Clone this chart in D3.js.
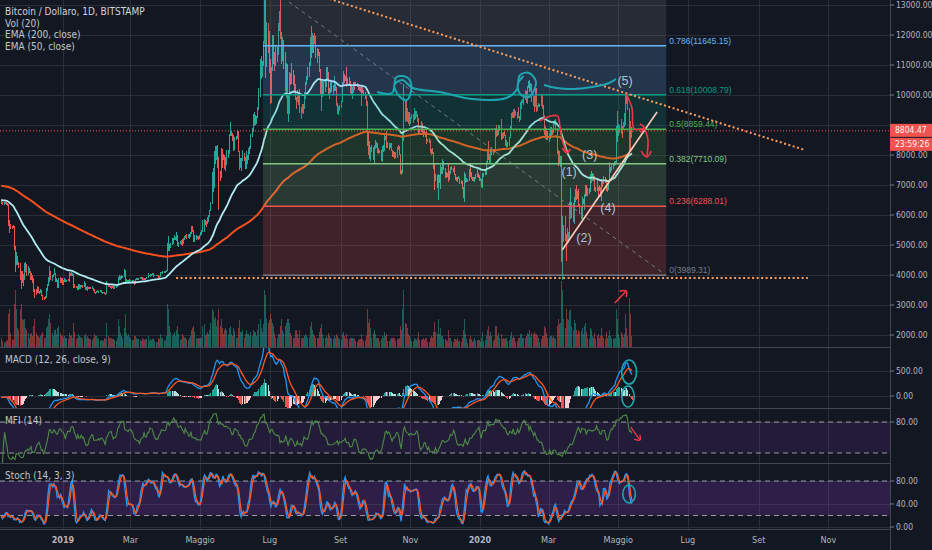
<!DOCTYPE html>
<html>
<head>
<meta charset="utf-8">
<script src="https://cdn.jsdelivr.net/npm/d3@7"></script>
<style>
  html, body { margin: 0; padding: 0; background: #131722; }
  svg { display: block; font-family: "Liberation Sans Narrow", "DejaVu Sans Condensed", sans-serif; }
</style>
</head>
<body>
<div id="chart"></div>
<script>
// ---- daily BTC/USD bars (Bitstamp), first bar 2018-11-08 ----
const startDate = "2018-11-08";
const prevClose = 6530; // close of 2018-11-07 = open of first bar

const closes = [
  6410,6360,6390,6400,6370,6360,5740,5650,5600,5580,5640,4860,4470,4620,4360,4330,3880,4010,3790,3840,4280,4280,4020, // nov 18
  4200,4150,3880,3960,3760,3510,3420,3410,3580,3460,3400,3490,3310,3240,3210,3240,3530,3660,3770,4130,3880,4000,3990,4070,3820,3840,3600,3880,3760,3880,3700, // dec
  3820,3880,3780,3820,3800,4040,4000,4000,4010,3640,3630,3600,3510,3660,3570,3610,3640,3600,3710,3540,3540,3580,3550,3580,3570,3570,3540,3440,3400,3460,3430, // jan 19
  3460,3490,3410,3410,3430,3390,3370,3630,3620,3650,3590,3610,3590,3570,3580,3600,3650,3880,3900,3960,3920,3960,4120,3750,3820,3800,3810,3800, // feb
  3820,3820,3790,3700,3850,3860,3870,3870,3930,3910,3860,3880,3870,3870,3920,4000,3980,3980,4010,4040,3980,3990,3990,3990,3920,3940,4090,4080,4110,4110,4110, // mar
  4150,4900,4970,4910,5040,5060,5200,5270,5200,5330,5020,5080,5080,5160,5050,5220,5270,5290,5280,5340,5290,5390,5550,5440,5210,5280,5280,5270,5210,5320, // apr
  5370,5480,5770,5820,5750,5690,5760,5940,6150,6360,7250,6980,7820,7990,8200,7880,7360,7260,8190,7980,7950,7620,7880,7990,8050,8680,8800,8720,8660,8270,8550, // may
  8560,8740,8120,7680,7790,7800,8000,7930,7620,8000,7930,8150,8230,8700,8840,8970,9330,9080,9280,9540,10200,10690,10870,11000,11780,12930,11170,12400,11900,10830, // jun
  10570,10810,11970,11160,11000,11240,11470,12280,12560,12100,11360,11800,11370,10200,10860,9440,9670,10640,10530,10750,10590,10320,9860,9770,9880,9850,9480,9530,9510,9580,10080, // jul
  10400,10530,10820,10980,11800,11460,11970,11960,11850,11280,11540,11390,10870,10030,10300,10360,10220,10320,10900,10760,10140,10130,10400,10140,10140,10370,10190,9720,9490,9580,9600, // aug
  9770,10390,10620,10580,10580,10320,10490,10400,10330,10110,10160,10420,10360,10360,10310,10260,10180,10160,10270,10170,9980,10030,9690,8530,8430,8060,8190,8210,8050,8300, // sep
  8330,8390,8230,8150,8140,7880,8210,8180,8590,8580,8270,8310,8290,8360,8160,8000,8080,7960,7960,8230,8220,8030,7470,7430,8660,9260,9550,9210,9420,9200,9150, // oct
  9250,9310,9200,9400,9310,9340,9200,8780,8800,9040,8720,8820,8760,8640,8470,8490,8500,8170,8120,8080,7620,7280,7330,6910,7130,7160,7530,7430,7750,7560, // nov
  7410,7320,7300,7200,7390,7530,7510,7520,7340,7230,7210,7200,7250,7070,7110,6880,6620,7280,7150,7190,7140,7510,7330,7250,7200,7200,7250,7320,7390,7240,7180, // dec
  7180,6950,7340,7360,7360,7760,8160,8040,7820,8190,8020,8180,8110,8820,8810,8720,8900,8910,8700,8630,8730,8660,8390,8430,8330,8600,8890,9380,9290,9500,9340, // jan 20
  9380,9330,9280,9160,9610,9760,9800,9900,10150,9850,10270,10350,10230,10360,9900,9920,9700,10170,9600,9610,9680,9660,9970,9660,9310,8780,8790,8670,8530, // feb
  8530,8910,8760,8750,9060,9150,8900,8030,7930,7890,7950,4860,5620,5160,5360,5030,5330,5410,6190,6200,6190,5830,6480,6760,6690,6760,6370,6250,5880,6410,6420, // mar
  6640,6800,6740,6860,6780,7340,7200,7370,7290,6860,6890,6910,6850,6860,6630,7110,7040,7260,7130,6850,6870,7130,7500,7540,7560,7700,7780,7770,8780,8620, // apr
  8830,8970,8900,8890,9030,9160,9980,9810,9540,8720,8570,8810,8804.47 // may
];

const highs = [
  6540,6440,6420,6440,6430,6400,6370,5850,5700,5640,5680,5640,4960,4780,4650,4440,4400,4150,4140,4050,4390,4440,4360,
  4310,4230,4150,4070,3990,3890,3550,3520,3650,3600,3480,3530,3490,3330,3270,3300,3580,3690,3940,4300,4150,4010,4030,4230,4070,3890,3840,3900,3950,3890,3890,
  3840,3910,3880,3850,3880,4090,4070,4110,4060,4030,3690,3630,3620,3690,3690,3680,3670,3660,3790,3740,3590,3630,3610,3600,3590,3640,3580,3540,3450,3470,3490,
  3480,3500,3490,3430,3440,3440,3400,3800,3670,3660,3650,3640,3630,3620,3620,3620,3690,3920,4000,3980,4000,3980,4190,4170,3860,3830,3840,3860,
  3850,3840,3830,3800,3870,3910,3910,3910,3950,3940,3920,3900,3890,3900,3930,4070,4010,4050,4030,4060,4060,4010,4000,4000,3990,3960,4100,4100,4120,4150,4130,
  4170,5080,5300,5020,5080,5230,5250,5350,5280,5450,5340,5110,5130,5180,5190,5230,5300,5340,5360,5360,5370,5440,5620,5640,5490,5340,5330,5300,5300,5350,
  5420,5510,5840,5860,5840,5800,5950,6000,6180,6450,7450,7580,8120,8310,8290,8330,7950,7470,8250,8100,8050,8000,7950,8160,8160,8710,9090,8800,8740,8680,8590,
  8630,8820,8800,8120,7910,7890,8160,8080,7940,8140,8000,8230,8310,8710,8890,9370,9440,9340,9310,9590,10240,11190,11300,11130,11800,13880,13330,12440,12360,12120,
  11200,10930,11990,12000,11440,11670,11600,12390,12790,13200,12110,11930,11830,11450,11070,11030,9990,10770,10730,11080,10820,10660,10360,9920,10180,9990,10200,9610,9710,9690,10110,
  10450,10650,10920,11090,11940,12300,12070,12000,12060,11960,11560,11540,11450,10870,10480,10480,10450,10460,10930,10930,10770,10240,10430,10420,10340,10640,10380,10270,9700,9650,9680,
  9800,10450,10790,10690,10640,10920,10570,10590,10480,10380,10260,10450,10450,10440,10390,10360,10270,10270,10300,10290,10080,10100,10040,9800,8740,8470,8280,8340,8270,8350,
  8510,8420,8400,8220,8170,8160,8310,8320,8670,8650,8790,8420,8410,8400,8400,8170,8130,8100,8100,8260,8320,8300,8050,7500,8800,10370,9800,9870,9580,9450,9440,
  9280,9370,9380,9560,9470,9470,9360,9230,8830,9120,9070,8880,8840,8780,8790,8540,8580,8500,8210,8230,8100,7700,7380,7330,7380,7340,7660,7600,7870,7800,
  7560,7420,7410,7750,7480,7600,7630,7560,7620,7380,7270,7260,7300,7250,7170,7130,6940,7440,7380,7220,7190,7520,7690,7430,7270,7280,7270,7360,7520,7410,7320,
  7250,7210,7400,7390,7490,7790,8210,8460,8050,8200,8280,8190,8190,8890,8990,8840,9000,9010,9190,8730,8780,8790,8670,8510,8440,8610,8980,9390,9420,9540,9520,
  9470,9450,9600,9300,9760,9850,9870,9930,10160,10150,10300,10470,10500,10390,10380,10050,9960,10250,10240,9660,9750,9690,9990,10000,9680,9330,8970,8910,8790,
  8750,8950,8920,8840,9150,9180,9210,8900,8180,8150,7980,7960,5960,5670,5960,5380,5560,5450,6420,6900,6450,6410,6600,6860,6990,6800,6870,6380,6270,6600,6530,
  6700,7000,7000,6890,6890,7370,7470,7410,7370,7300,6940,7180,6920,6990,6950,7210,7150,7310,7250,7200,6960,7160,7760,7600,7700,7740,7800,7800,8980,9460,
  9050,9000,9190,8960,9090,9390,9990,10050,9920,9570,9150,8950,8812
];

const lows = [
  6380,6340,6340,6370,6330,6300,5650,5400,5530,5530,5560,4830,4100,4320,4350,4230,3830,3550,3720,3640,3820,4100,3970,
  3990,4080,3840,3830,3750,3450,3240,3350,3410,3400,3360,3400,3300,3170,3170,3210,3240,3480,3640,3760,3820,3790,3930,3990,3770,3760,3580,3580,3740,3750,3670,
  3680,3770,3760,3760,3790,3780,3960,3970,3980,3580,3570,3560,3490,3500,3540,3550,3590,3570,3590,3490,3520,3480,3530,3530,3530,3560,3480,3390,3380,3390,3420,
  3400,3450,3400,3390,3400,3370,3350,3360,3590,3590,3580,3550,3570,3550,3560,3570,3590,3640,3830,3850,3880,3910,3940,3700,3740,3750,3700,3770,
  3790,3780,3770,3670,3690,3820,3840,3850,3860,3880,3840,3820,3850,3830,3860,3910,3960,3950,3970,3990,3950,3980,3980,3970,3890,3910,3930,4060,4050,4080,4090,
  4100,4120,4810,4790,4930,4990,5040,5160,5160,5130,4980,4920,5040,5010,4980,5030,5180,5250,5190,5250,5200,5260,5370,5420,5110,5100,5180,5190,5170,5190,
  5310,5350,5440,5450,5680,5600,5700,5780,5930,6140,6370,6780,6900,7700,7850,7580,6180,7150,7250,7560,7850,7520,7480,7670,7900,8030,8620,8620,8460,8140,8180,
  8490,8520,8090,7510,7580,7470,7790,7800,7530,7550,7700,7840,8030,8210,8590,8770,8970,9000,9050,9250,9510,9930,10530,10600,10960,11690,10580,10940,11400,10750,
  9700,9740,10800,11050,10800,10980,11110,11320,12140,11860,11040,11150,10860,10120,9900,9360,9100,9370,10320,10370,10350,10120,9830,9520,9760,9680,9390,9200,9400,9380,9550,
  9880,10350,10500,10600,10970,11220,11400,11400,11700,11240,11080,11290,10760,10000,9460,9950,10030,10090,10270,10540,10000,9880,10080,10090,10050,10140,10140,9640,9380,9330,9470,
  9580,9760,10290,10410,10460,10270,10310,10290,10070,10020,9870,10080,10170,10290,10260,10160,10140,10110,9650,10070,9960,9860,9620,8310,8000,7860,7790,8100,7850,7710,
  8190,8230,8080,8020,8060,7790,7760,8090,8150,8500,8230,8250,8170,8230,8130,7940,7950,7880,7910,7900,8180,8000,7360,7350,7410,8480,9110,9140,9100,9020,8980,
  9050,9200,9080,9160,9200,9260,9100,8710,8700,8780,8660,8590,8700,8590,8370,8440,8400,8060,8000,8050,7540,6850,7130,6900,6515,7070,6860,7380,7380,7490,
  7230,7250,7260,7100,7170,7380,7500,7430,7320,7170,7130,7110,7200,7030,7030,6860,6570,6435,7070,7110,7100,7120,7270,7190,7120,7130,7100,7210,7280,7230,7140,
  7150,6920,6890,7270,7330,7350,7740,7830,7750,7720,8010,8010,8060,8120,8590,8640,8670,8810,8500,8540,8560,8620,8310,8260,8280,8290,8580,8870,9250,9230,9220,
  9300,9200,9230,9100,9160,9540,9720,9680,9850,9730,9700,10240,10090,10120,9770,9650,9450,9600,9430,9460,9600,9590,9650,9520,9270,8660,8550,8500,8510,
  8420,8520,8650,8670,8730,9010,8840,8020,7650,7700,7600,4440,3850,5100,5150,4470,5030,5080,5250,5880,5900,5770,5700,6430,6510,6530,6290,6020,5860,5860,6360,
  6160,6600,6620,6640,6700,6780,7080,7140,7120,6790,6780,6810,6580,6790,6610,6480,6950,7020,7080,6800,6780,6850,7090,7400,7460,7530,7650,7660,7730,8420,
  8620,8750,8690,8560,8820,8940,9010,9710,9500,8120,8160,8560,8800
];

// thousand BTC
const volumes = [
  9,6,4,5,6,7,35,40,15,8,7,45,60,40,20,18,40,45,30,28,30,20,18,
  15,10,14,15,12,22,30,15,12,12,10,12,14,16,10,10,20,22,30,35,25,15,12,18,18,14,20,22,15,12,13,
  10,12,10,9,8,15,12,13,10,25,16,8,9,14,12,11,10,9,12,14,9,12,10,8,8,7,10,14,12,12,10,
  8,6,7,7,6,9,8,25,12,9,10,9,8,8,7,6,10,30,22,15,12,10,20,35,15,12,14,11,
  8,7,7,12,12,9,8,8,7,6,9,8,7,8,8,12,6,8,7,8,9,6,5,5,10,8,14,9,9,7,6,
  12,45,40,22,16,12,14,16,12,18,22,14,7,8,14,12,11,10,8,7,9,12,18,20,22,16,9,8,10,10,
  10,10,22,24,12,14,16,14,18,25,40,38,30,32,22,28,40,22,30,20,14,18,20,18,13,20,22,14,12,20,17,
  10,10,20,28,16,16,18,10,14,18,14,14,12,16,12,18,16,16,12,18,24,30,20,16,24,60,55,30,25,28,
  35,30,25,22,15,10,10,14,14,22,30,18,15,22,25,30,30,25,15,12,10,10,18,18,14,10,18,10,9,10,12,
  14,12,10,11,22,26,18,14,12,10,10,9,16,20,24,14,10,9,12,10,15,12,10,9,8,12,9,14,12,9,8,
  7,14,16,12,9,14,8,8,9,10,10,10,8,6,5,7,8,8,14,8,6,7,12,40,25,30,20,10,15,18,
  14,9,10,9,6,8,12,9,16,12,14,6,6,8,9,10,9,9,6,8,8,10,22,18,40,60,25,24,20,14,12,
  10,6,6,10,8,7,9,16,7,7,8,9,7,9,10,5,5,10,12,10,16,26,16,14,30,14,20,12,12,8,
  8,7,6,18,9,10,6,5,8,8,7,9,6,6,5,10,18,30,14,8,4,8,12,8,5,7,9,6,7,7,7,
  5,9,16,6,7,12,18,22,12,16,12,6,8,22,22,12,15,10,14,8,9,8,10,10,6,7,12,16,10,12,10,
  5,6,9,9,14,14,10,9,9,12,15,14,18,11,15,14,16,14,14,12,9,5,8,12,12,22,20,15,9,
  10,12,12,9,12,10,8,22,30,24,25,70,60,30,20,40,30,28,38,40,22,18,28,25,18,14,18,16,17,20,14,
  22,25,16,10,8,20,18,12,10,15,8,12,14,10,12,20,12,10,8,16,10,12,18,12,9,8,10,9,40,30,
  14,9,16,14,11,14,35,20,12,52,35,12,0.2
];

const ema50Start = 6500;
const ema200Start = 6980;
const ema12Start = 6390;
const ema26Start = 6420;
const signalStart = -25;

// axis ticks and labels
const priceTicks = d3.range(2000, 13001, 1000);
const macdTicks = [0, 500];
const mfiTicks = [80];
const stochTicks = [0, 40, 80];
const monthNames = ["Gen", "Feb", "Mar", "Apr", "Maggio", "Giu", "Lug", "Ago", "Set", "Ott", "Nov", "Dic"];
const legendLines = ["Bitcoin / Dollaro, 1D, BITSTAMP", "Vol (20)", "EMA (200, close)", "EMA (50, close)"];

// fibonacci retracement drawing
const fibRatios = [0, 0.236, 0.382, 0.5, 0.618, 0.786, 1];
const fibColors = ["#787b86", "#ef5350", "#81c784", "#4caf50", "#089981", "#64b5f6", "#787b86"];
const fibLow = 3989.31, fibHigh = 13729.57;
const fibFrom = "2019-06-25", fibTo = "2020-06-12";

// other drawings [date, value]
const orangeTrend = [["2019-07-27", 13520], ["2020-10-11", 8170]];
const orangeSupport = [["2019-04-10", 3900], ["2020-10-14", 3900]];
const peachTrend = [["2020-03-13", 4833], ["2020-06-04", 9433]];
const tealScribble1 = [["2019-10-03",10100],["2019-10-16",10067],["2019-10-20",10600],["2019-10-30",10567],["2019-11-02",10233],["2019-10-29",9833],["2019-10-23",9933],["2019-10-18",10333],["2019-10-25",10500],["2019-11-03",10233],["2019-11-27",10100],["2019-12-25",9867],["2020-01-24",9900],["2020-02-02",10167],["2020-02-05",10667],["2020-02-13",10733],["2020-02-19",10433],["2020-02-13",9933],["2020-02-06",10000],["2020-02-03",10333],["2020-02-08",10633]];
const tealScribble2 = [["2020-02-26",10333],["2020-03-08",10233],["2020-03-22",10200],["2020-04-08",10267],["2020-04-23",10400],["2020-04-29",10533]];
const redArrows = [
  [["2020-02-22",9133],["2020-03-03",9300],["2020-03-09",9300],["2020-03-11",8933],["2020-03-13",8500],["2020-03-17",8067]],
  [["2020-03-13",8233],["2020-03-17",8067],["2020-03-20",8200]],
  [["2020-05-08",10033],["2020-05-13",9567],["2020-05-15",8867],["2020-05-24",8900]],
  [["2020-05-20",9033],["2020-05-24",8900],["2020-05-20",8767]],
  [["2020-05-24",8900],["2020-05-27",8500],["2020-05-26",7933]],
  [["2020-05-21",8133],["2020-05-26",7933],["2020-05-30",8133]],
  [["2020-04-28",3067],["2020-05-08",3467]],
  [["2020-05-02",3467],["2020-05-08",3467],["2020-05-08",3267]]
];
const mfiArrow = [[["2020-05-12",70],["2020-05-20",45]], [["2020-05-15",47],["2020-05-20",45],["2020-05-20",55]]];
const macdCircles = [[["2020-05-04",720],["2020-05-17",240]], [["2020-05-04",200],["2020-05-15",-220]]];
const stochCircles = [[["2020-05-05",73],["2020-05-16",42]]];
const waveLabels = [["(1)","2020-03-19",7400],["(2)","2020-04-01",5200],["(3)","2020-04-06",7967],["(4)","2020-04-22",6200],["(5)","2020-05-07",10433]];

// ---------------- layout ----------------
const width = 932, height = 550, plotRight = 890;
const paneMain = [0, 347], paneMacd = [347, 408], paneMfi = [408, 463], paneStoch = [463, 529];
const upColor = "#26a69a", downColor = "#ef5350";
const gridColor = "#2a2e39", textColor = "#b2b5be";

const x = d3.scaleUtc()
  .domain([new Date(Date.UTC(2019, 0, 1)), new Date(Date.UTC(2020, 0, 1))])
  .range([63, 480]);
const yPrice = d3.scaleLinear().domain([2000, 13000]).range([335, 5]);
const yVol = d3.scaleLinear().domain([0, 60]).range([347, 290]);
const yMacd = d3.scaleLinear().domain([0, 500]).range([396, 371]);
const yMfi = d3.scaleLinear().domain([20, 80]).range([453, 422]);
const yStoch = d3.scaleLinear().domain([0, 80]).range([527, 481]);

const pd = s => d3.isoParse(s);

// bars
const t0 = pd(startDate);
const bars = closes.map((c, i) => ({
  date: d3.utcDay.offset(t0, i),
  open: i ? closes[i - 1] : prevClose,
  high: highs[i], low: lows[i], close: c, vol: volumes[i]
}));

// indicators
function ema(values, period, seed) {
  const k = 2 / (period + 1);
  let e = seed;
  return values.map(v => (e = v * k + e * (1 - k)));
}
const ema50 = ema(closes, 50, ema50Start);
const ema200 = ema(closes, 200, ema200Start);
const e12 = ema(closes, 12, ema12Start), e26 = ema(closes, 26, ema26Start);
const macd = e12.map((v, i) => v - e26[i]);
const signal = ema(macd, 9, signalStart);
const hist = macd.map((v, i) => v - signal[i]);

const tp = bars.map(b => (b.high + b.low + b.close) / 3);
const mfi = bars.map((b, i) => {
  if (i === 0) return null;
  let pos = 0, neg = 0;
  for (let j = Math.max(1, i - 13); j <= i; j++) {
    const flow = tp[j] * bars[j].vol;
    if (tp[j] > tp[j - 1]) pos += flow; else if (tp[j] < tp[j - 1]) neg += flow;
  }
  return neg === 0 ? 100 : 100 - 100 / (1 + pos / neg);
});

const rawK = bars.map((b, i) => {
  const win = bars.slice(Math.max(0, i - 13), i + 1);
  const hh = d3.max(win, d => d.high), ll = d3.min(win, d => d.low);
  return hh === ll ? 50 : 100 * (b.close - ll) / (hh - ll);
});
const sma = (arr, n) => arr.map((v, i) => d3.mean(arr.slice(Math.max(0, i - n + 1), i + 1)));
const stochK = sma(rawK, 3);
const stochD = sma(stochK, 3);

// ---------------- svg ----------------
const svg = d3.select("#chart").append("svg")
  .attr("width", width).attr("height", height);

svg.append("rect").attr("width", width).attr("height", height).attr("fill", "#131722");

const defs = svg.append("defs");
[["main", paneMain], ["macd", paneMacd], ["mfi", paneMfi], ["stoch", paneStoch]].forEach(([id, p]) => {
  defs.append("clipPath").attr("id", "clip-" + id)
    .append("rect").attr("x", 0).attr("y", p[0]).attr("width", plotRight).attr("height", p[1] - p[0]);
});

// grid
const timeTicks = d3.utcMonth.every(2).range(new Date(Date.UTC(2019, 0, 1)), new Date(Date.UTC(2020, 11, 2)));
const grid = svg.append("g").attr("stroke", gridColor).attr("stroke-width", 1).attr("shape-rendering", "crispEdges");
grid.selectAll("line.v").data(timeTicks).join("line")
  .attr("x1", d => Math.round(x(d)) + 0.5).attr("x2", d => Math.round(x(d)) + 0.5)
  .attr("y1", 0).attr("y2", paneStoch[1]);
function hGrid(ticks, scale) {
  grid.append("g").selectAll("line").data(ticks).join("line")
    .attr("x1", 0).attr("x2", plotRight)
    .attr("y1", d => Math.round(scale(d)) + 0.5).attr("y2", d => Math.round(scale(d)) + 0.5);
}
hGrid(priceTicks, yPrice);
hGrid(macdTicks, yMacd);
hGrid(mfiTicks, yMfi);
hGrid(stochTicks, yStoch);

// ---- main pane ----
const main = svg.append("g").attr("clip-path", "url(#clip-main)");

main.append("g").attr("shape-rendering", "crispEdges")
  .selectAll("rect").data(bars).join("rect")
  .attr("x", d => Math.round(x(d.date)))
  .attr("width", 1)
  .attr("y", d => yVol(d.vol))
  .attr("height", d => yVol(0) - yVol(d.vol))
  .attr("fill", d => d.close >= d.open ? upColor : downColor)
  .attr("fill-opacity", 0.5);

const candles = main.append("g").attr("shape-rendering", "crispEdges");
candles.selectAll("rect.wick").data(bars).join("rect").attr("class", "wick")
  .attr("x", d => Math.round(x(d.date)))
  .attr("width", 1)
  .attr("y", d => yPrice(d.high))
  .attr("height", d => Math.max(1, yPrice(d.low) - yPrice(d.high)))
  .attr("fill", d => d.close >= d.open ? upColor : downColor);
candles.selectAll("rect.body").data(bars).join("rect").attr("class", "body")
  .attr("x", d => Math.round(x(d.date)))
  .attr("width", 1)
  .attr("y", d => yPrice(Math.max(d.open, d.close)))
  .attr("height", d => Math.max(1, Math.abs(yPrice(d.open) - yPrice(d.close))))
  .attr("fill", d => d.close >= d.open ? upColor : downColor);

const lineOf = (vals, scale) => d3.line().x((d, i) => x(bars[i].date)).y(d => scale(d))(vals);
main.append("path").attr("d", lineOf(ema200, yPrice)).attr("fill", "none").attr("stroke", "#f4511e").attr("stroke-width", 2);
main.append("path").attr("d", lineOf(ema50, yPrice)).attr("fill", "none").attr("stroke", "#b2ebf2").attr("stroke-width", 1.8);

// fib retracement
const fx1 = x(pd(fibFrom)), fx2 = x(pd(fibTo));
const fibPrice = r => fibLow + r * (fibHigh - fibLow);
const fib = main.append("g");
fib.selectAll("rect").data(fibRatios.slice(1)).join("rect")
  .attr("x", fx1).attr("width", fx2 - fx1)
  .attr("y", d => yPrice(fibPrice(d)))
  .attr("height", (d, i) => yPrice(fibPrice(fibRatios[i])) - yPrice(fibPrice(d)))
  .attr("fill", (d, i) => fibColors[i + 1]).attr("fill-opacity", 0.2);
fib.selectAll("line").data(fibRatios).join("line")
  .attr("x1", fx1).attr("x2", fx2)
  .attr("y1", d => yPrice(fibPrice(d))).attr("y2", d => yPrice(fibPrice(d)))
  .attr("stroke", (d, i) => fibColors[i]).attr("stroke-width", 1.5);
// the 1.0 level sits above the visible range, so only its fill shows
fib.selectAll("text").data(fibRatios.filter(r => yPrice(fibPrice(r)) > 12)).join("text")
  .attr("x", fx2 + 3).attr("y", d => yPrice(fibPrice(d)) - 2)
  .attr("fill", d => fibColors[fibRatios.indexOf(d)])
  .attr("font-family", "'Liberation Sans', Arial, sans-serif")
  .attr("font-size", 8.5)
  .text(d => `${d}(${fibPrice(d).toFixed(2)})`);
fib.append("line")
  .attr("x1", fx1).attr("y1", yPrice(fibHigh)).attr("x2", fx2).attr("y2", yPrice(fibLow))
  .attr("stroke", "#787b86").attr("stroke-dasharray", "4,4");

// trend lines
const seg = (pts, sy) => d3.line().x(p => x(pd(p[0]))).y(p => sy(p[1]));
main.append("path").attr("d", seg(orangeTrend, yPrice)(orangeTrend))
  .attr("stroke", "#ff9e5a").attr("stroke-width", 2).attr("stroke-dasharray", "2,2.5").attr("fill", "none");
main.append("path").attr("d", seg(orangeSupport, yPrice)(orangeSupport))
  .attr("stroke", "#ff9e5a").attr("stroke-width", 2).attr("stroke-dasharray", "2,2.5").attr("fill", "none");
main.append("path").attr("d", seg(peachTrend, yPrice)(peachTrend))
  .attr("stroke", "#ffccbc").attr("stroke-width", 1.6).attr("fill", "none");

// hand drawings
const curve = (pts, sy) => d3.line().x(p => x(pd(p[0]))).y(p => sy(p[1])).curve(d3.curveCatmullRom.alpha(0.5))(pts);
[tealScribble1, tealScribble2].forEach(s => {
  main.append("path").attr("d", curve(s, yPrice)).attr("fill", "none")
    .attr("stroke", "#1fa5b0").attr("stroke-width", 2).attr("stroke-linejoin", "round");
});
redArrows.forEach(s => {
  main.append("path").attr("d", curve(s, yPrice)).attr("fill", "none")
    .attr("stroke", "#f23645").attr("stroke-width", 1.6).attr("stroke-linejoin", "round");
});
main.selectAll("text.wave").data(waveLabels).join("text").attr("class", "wave")
  .attr("x", d => x(pd(d[1]))).attr("y", d => yPrice(d[2]))
  .attr("text-anchor", "middle").attr("dominant-baseline", "middle")
  .attr("font-family", "'Liberation Sans', Arial, sans-serif").attr("font-size", 12.5)
  .attr("fill", "#b0c4d4").text(d => d[0]);

// current price line
main.append("line").attr("x1", 0).attr("x2", plotRight)
  .attr("y1", yPrice(closes[closes.length - 1])).attr("y2", yPrice(closes[closes.length - 1]))
  .attr("stroke", "#ef5350").attr("stroke-dasharray", "1,2");

// ---- MACD pane ----
const macdG = svg.append("g").attr("clip-path", "url(#clip-macd)");
macdG.append("g").attr("shape-rendering", "crispEdges")
  .selectAll("rect").data(hist).join("rect")
  .attr("x", (d, i) => Math.round(x(bars[i].date)))
  .attr("width", 1)
  .attr("y", d => Math.min(yMacd(0), yMacd(d)))
  .attr("height", d => Math.abs(yMacd(d) - yMacd(0)))
  .attr("fill", (d, i) => {
    const prev = i ? hist[i - 1] : d;
    if (d >= 0) return d >= prev ? "#26a69a" : "#b2dfdb";
    return d < prev ? "#ef5350" : "#ffcdd2";
  });
macdG.append("path").attr("d", lineOf(macd, yMacd)).attr("fill", "none").attr("stroke", "#2196f3").attr("stroke-width", 1.3);
macdG.append("path").attr("d", lineOf(signal, yMacd)).attr("fill", "none").attr("stroke", "#ff5722").attr("stroke-width", 1.3);

function ellipse(g, corners, sy) {
  const [a, b] = corners;
  const x1 = x(pd(a[0])), x2 = x(pd(b[0])), y1 = sy(a[1]), y2 = sy(b[1]);
  g.append("ellipse").attr("cx", (x1 + x2) / 2).attr("cy", (y1 + y2) / 2)
    .attr("rx", Math.abs(x2 - x1) / 2).attr("ry", Math.abs(y2 - y1) / 2)
    .attr("fill", "none").attr("stroke", "#1fa5b0").attr("stroke-width", 1.6);
}
macdCircles.forEach(c => ellipse(macdG, c, yMacd));

// ---- MFI pane ----
const mfiG = svg.append("g").attr("clip-path", "url(#clip-mfi)");
mfiG.append("rect").attr("x", 0).attr("width", plotRight)
  .attr("y", yMfi(80)).attr("height", yMfi(20) - yMfi(80))
  .attr("fill", "#7e3fc8").attr("fill-opacity", 0.14);
[80, 20].forEach(v => mfiG.append("line").attr("x1", 0).attr("x2", plotRight)
  .attr("y1", yMfi(v)).attr("y2", yMfi(v)).attr("stroke", "#9598a1").attr("stroke-dasharray", "5,4"));
mfiG.append("path")
  .attr("d", d3.line().defined(d => d != null).x((d, i) => x(bars[i].date)).y(d => yMfi(d))(mfi))
  .attr("fill", "none").attr("stroke", "#4d8a45").attr("stroke-width", 1.1);
mfiArrow.forEach(s => mfiG.append("path").attr("d", curve(s, yMfi)).attr("fill", "none")
  .attr("stroke", "#f23645").attr("stroke-width", 1.3));

// ---- Stoch pane ----
const stG = svg.append("g").attr("clip-path", "url(#clip-stoch)");
stG.append("rect").attr("x", 0).attr("width", plotRight)
  .attr("y", yStoch(80)).attr("height", yStoch(20) - yStoch(80))
  .attr("fill", "#9a3fe0").attr("fill-opacity", 0.2);
[80, 20].forEach(v => stG.append("line").attr("x1", 0).attr("x2", plotRight)
  .attr("y1", yStoch(v)).attr("y2", yStoch(v)).attr("stroke", "#9598a1").attr("stroke-dasharray", "5,4"));
stG.append("path").attr("d", lineOf(stochK, yStoch)).attr("fill", "none").attr("stroke", "#2196f3").attr("stroke-width", 1.4);
stG.append("path").attr("d", lineOf(stochD, yStoch)).attr("fill", "none").attr("stroke", "#ff5722").attr("stroke-width", 1.3);
stochCircles.forEach(c => ellipse(stG, c, yStoch));

// ---- separators ----
const sep = svg.append("g").attr("stroke", "#434651").attr("shape-rendering", "crispEdges");
[paneMain[1], paneMacd[1], paneMfi[1], paneStoch[1]].forEach(yv =>
  sep.append("line").attr("x1", 0).attr("x2", plotRight).attr("y1", yv + 0.5).attr("y2", yv + 0.5));
sep.append("line").attr("x1", plotRight + 0.5).attr("x2", plotRight + 0.5).attr("y1", 0).attr("y2", height);

// ---- right axes ----
const fmt = d3.format(".2f");
const lastY = yPrice(closes[closes.length - 1]);
function rightAxis(ticks, scale) {
  const g = svg.append("g");
  g.selectAll("line").data(ticks).join("line")
    .attr("x1", plotRight).attr("x2", plotRight + 4)
    .attr("y1", d => scale(d)).attr("y2", d => scale(d))
    .attr("stroke", "#787b86");
  g.selectAll("text").data(ticks).join("text")
    .attr("x", plotRight + 6).attr("y", d => scale(d))
    .attr("dominant-baseline", "middle")
    .attr("font-size", 8.5).attr("fill", textColor)
    .text(d => fmt(d));
}
// the 9000 label sits under the last-price tag
rightAxis(priceTicks.filter(v => Math.abs(yPrice(v) - lastY) > 10), yPrice);
rightAxis(macdTicks, yMacd);
rightAxis(mfiTicks, yMfi);
rightAxis(stochTicks, yStoch);

// price tag + countdown
const tags = [fmt(closes[closes.length - 1]), "23:59:26"];
svg.selectAll("rect.tag").data(tags).join("rect").attr("class", "tag")
  .attr("x", plotRight).attr("y", (d, i) => lastY - 7 + i * 14)
  .attr("width", width - plotRight).attr("height", 13)
  .attr("fill", "#ef5350");
svg.selectAll("text.tag").data(tags).join("text").attr("class", "tag")
  .attr("x", plotRight + 5).attr("y", (d, i) => lastY + i * 14)
  .attr("dominant-baseline", "middle")
  .attr("font-size", 8.5).attr("fill", "#f5f5f5").text(d => d);

// ---- time axis ----
svg.append("g").selectAll("text").data(timeTicks).join("text")
  .attr("x", d => x(d)).attr("y", 540)
  .attr("text-anchor", "middle").attr("dominant-baseline", "middle")
  .attr("font-size", 9).attr("fill", textColor)
  .attr("font-weight", d => d.getUTCMonth() === 0 ? "bold" : "normal")
  .text(d => d.getUTCMonth() === 0 ? d.getUTCFullYear() : monthNames[d.getUTCMonth()]);

// ---- legends ----
svg.append("g").selectAll("text").data(legendLines).join("text")
  .attr("x", 5).attr("y", (d, i) => 12 + i * 11.7)
  .attr("dominant-baseline", "middle")
  .attr("font-size", 10).attr("fill", (d, i) => i ? "#c2c5cc" : "#d1d4dc")
  .text(d => d);
svg.append("g").selectAll("text").data([["MACD (12, 26, close, 9)", 360], ["MFI (14)", 421], ["Stoch (14, 3, 3)", 476]]).join("text")
  .attr("x", 5).attr("y", d => d[1])
  .attr("dominant-baseline", "middle")
  .attr("font-size", 10).attr("fill", "#c2c5cc")
  .text(d => d[0]);
</script>
</body>
</html>
